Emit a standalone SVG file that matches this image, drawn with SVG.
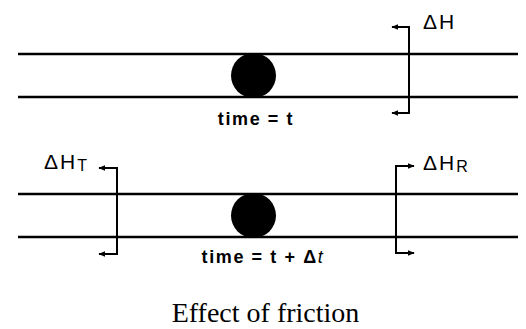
<svg xmlns="http://www.w3.org/2000/svg" width="526" height="329" viewBox="0 0 526 329">
<defs>
<marker id="ah" viewBox="0 0 10 10" refX="9" refY="5" markerWidth="3.5" markerHeight="3.5" orient="auto-start-reverse" markerUnits="strokeWidth">
<path d="M0,1 L10,5 L0,9 Z" fill="#000"/>
</marker>
<style>
.pipe{stroke:#000;stroke-width:2.5;fill:none}
.br{stroke:#000;stroke-width:2;fill:none}
.lbl{font-family:"Liberation Sans",Arial,sans-serif;fill:#000}
.t{font-size:18px;font-weight:bold;letter-spacing:1.6px}
.d{font-size:21px;letter-spacing:2px}
.sub{font-size:16px;letter-spacing:0}
.cap{font-family:"Liberation Serif","Times New Roman",serif;font-size:28px;fill:#000}
</style>
</defs>
<rect width="526" height="329" fill="#fff"/>
<g id="pipe1">
<line class="pipe" x1="18" y1="54" x2="518" y2="54"/>
<line class="pipe" x1="18" y1="97" x2="518" y2="97"/>
</g>
<g id="ball1"><circle cx="253.5" cy="75.5" r="22.5" fill="#000"/></g>
<g id="label1"><text class="lbl t" x="256" y="125" text-anchor="middle">time = t</text></g>
<g id="pipe2">
<line class="pipe" x1="18" y1="194" x2="518" y2="194"/>
<line class="pipe" x1="18" y1="237" x2="518" y2="237"/>
</g>
<g id="ball2"><circle cx="253.5" cy="215.5" r="22.5" fill="#000"/></g>
<g id="label2"><text class="lbl t" x="263" y="263" text-anchor="middle">time = t + Δ<tspan font-style="italic" font-weight="normal">t</tspan></text></g>
<g id="connectors">
<path class="br" d="M392,27 H409 V113 H392" marker-start="url(#ah)" marker-end="url(#ah)"/>
<path class="br" d="M99,168 H117 V254 H99" marker-start="url(#ah)" marker-end="url(#ah)"/>
<path class="br" d="M414,166 H396 V253 H414" marker-start="url(#ah)" marker-end="url(#ah)"/>
</g>
<g id="dH"><text class="lbl d" x="423" y="29">ΔH</text></g>
<g id="dHT"><text class="lbl d" x="44" y="169">ΔH<tspan class="sub" dy="2">T</tspan></text></g>
<g id="dHR"><text class="lbl d" x="423" y="170">ΔH<tspan class="sub" dy="2">R</tspan></text></g>
<g id="caption"><text class="cap" x="265.5" y="322" text-anchor="middle">Effect of friction</text></g>
</svg>
